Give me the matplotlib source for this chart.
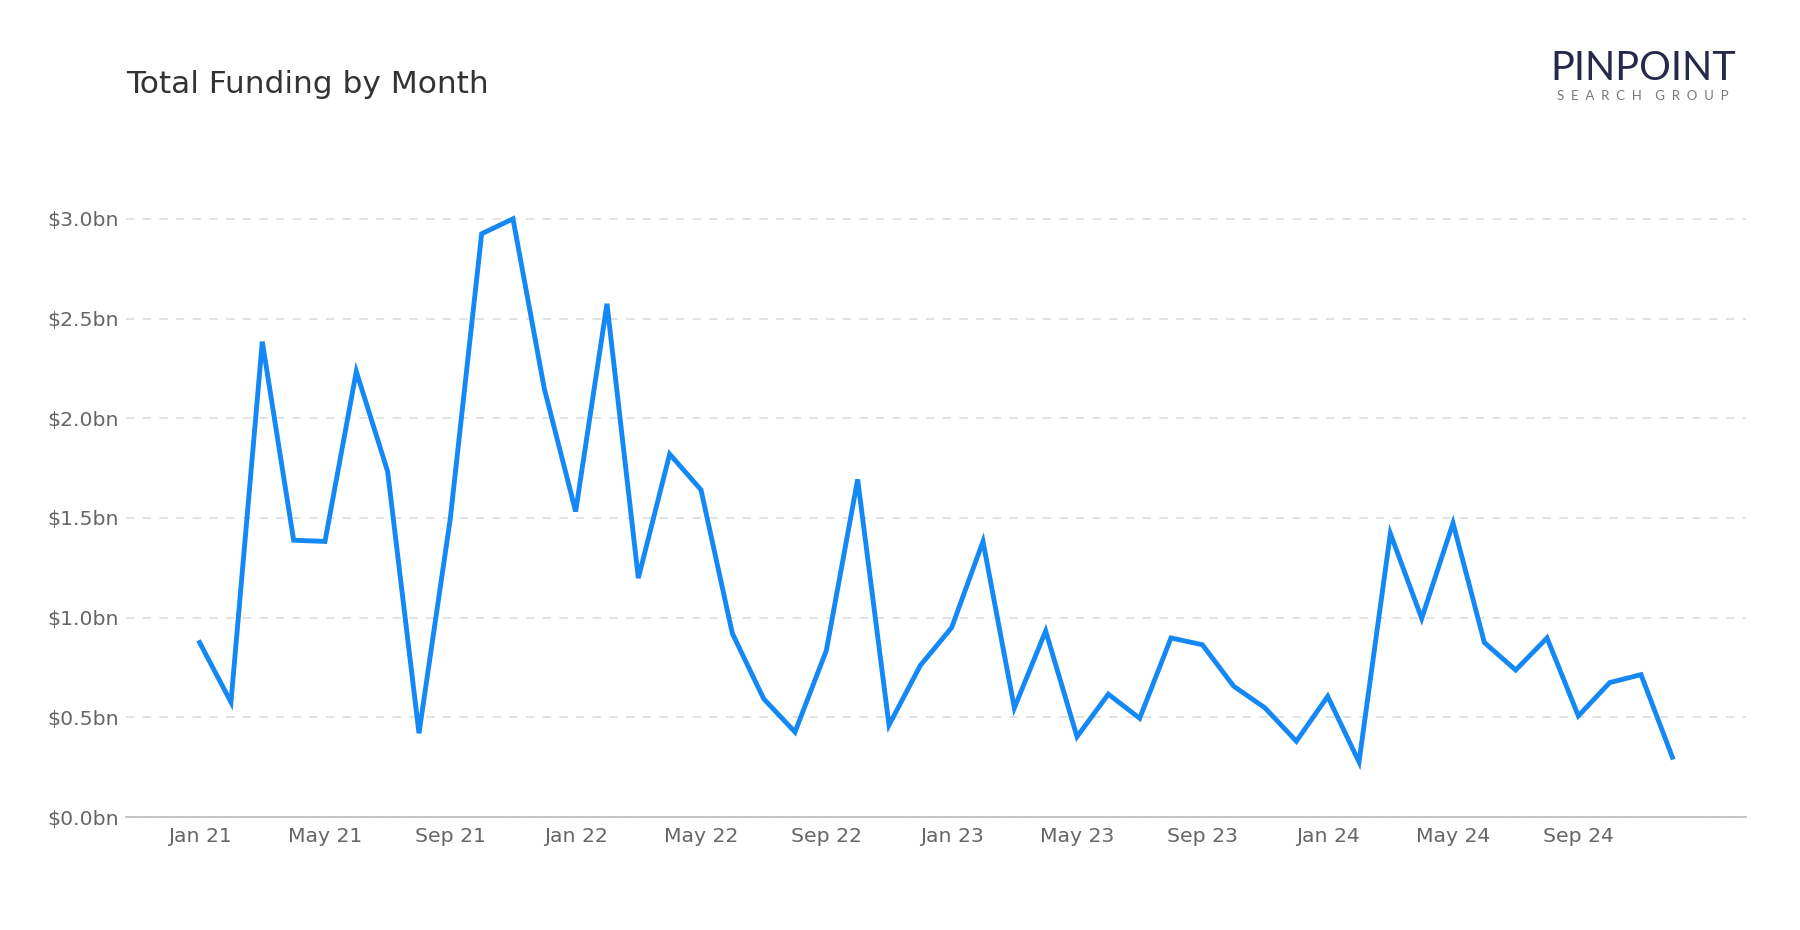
import matplotlib
matplotlib.use("Agg")
import matplotlib.pyplot as plt
import numpy as np

plt.rcParams["font.family"] = ["DejaVu Sans"]

months = [f"{m} {y}" for y in ["21", "22", "23", "24"]
          for m in ["Jan", "Feb", "Mar", "Apr", "May", "Jun", "Jul", "Aug", "Sep", "Oct", "Nov", "Dec"]]
funding_bn = [0.875, 0.576, 2.384, 1.388, 1.382, 2.234, 1.733, 0.42, 1.497, 2.925, 3.0, 2.148,
              1.532, 2.574, 1.198, 1.82, 1.641, 0.921, 0.593, 0.426, 0.835, 1.693, 0.461, 0.76,
              0.95, 1.382, 0.547, 0.933, 0.403, 0.616, 0.495, 0.898, 0.864, 0.656, 0.547, 0.38,
              0.605, 0.276, 1.422, 0.996, 1.474, 0.875, 0.737, 0.898, 0.507, 0.674, 0.714, 0.30]
y_ticks = [0.0, 0.5, 1.0, 1.5, 2.0, 2.5, 3.0]
y_tick_labels = [f"${v:.1f}bn" for v in y_ticks]

fig = plt.figure(figsize=(18, 9.3), dpi=100)
ax = fig.add_axes([126/1800, 1-817/930, (1746-126)/1800, (817-159)/930])

x = np.arange(len(funding_bn))
ax.plot(x, funding_bn, color="#1488F5", linewidth=3.5, solid_joinstyle="miter", clip_on=False, zorder=3)

ax.set_xlim(-2.35, 49.35)
ax.set_ylim(0, 3.3)
ax.set_yticks(y_ticks)
ax.set_yticklabels(y_tick_labels)
tick_idx = list(range(0, 48, 4))
ax.set_xticks(tick_idx)
ax.set_xticklabels([months[i] for i in tick_idx])

ax.grid(axis="y", linestyle=(0, (5, 5)), color="#dddddd", linewidth=1.2)
ax.set_axisbelow(True)
for s in ["top", "right", "left"]:
    ax.spines[s].set_visible(False)
ax.spines["bottom"].set_color("#bbbbbb")
ax.spines["bottom"].set_linewidth(1.2)
ax.tick_params(axis="both", length=0, labelsize=14.7, labelcolor="#666666")
ax.tick_params(axis="x", pad=7)
ax.tick_params(axis="y", pad=5)

fig.text(126/1800, 1-93/930, "Total Funding by Month", fontsize=22.5, color="#333333", va="baseline")

fig.text(1643/1800, 1-80/930, "PINPOINT", fontsize=28.5, color="#262A4A", ha="center",
         va="baseline", fontfamily="Lato")
fig.text(1643/1800, 1-100/930, "S  E  A  R  C  H    G  R  O  U  P", fontsize=9.5, color="#777777",
         ha="center", va="baseline", fontfamily="Lato")

fig.savefig("out.png", dpi=100, facecolor="white")
